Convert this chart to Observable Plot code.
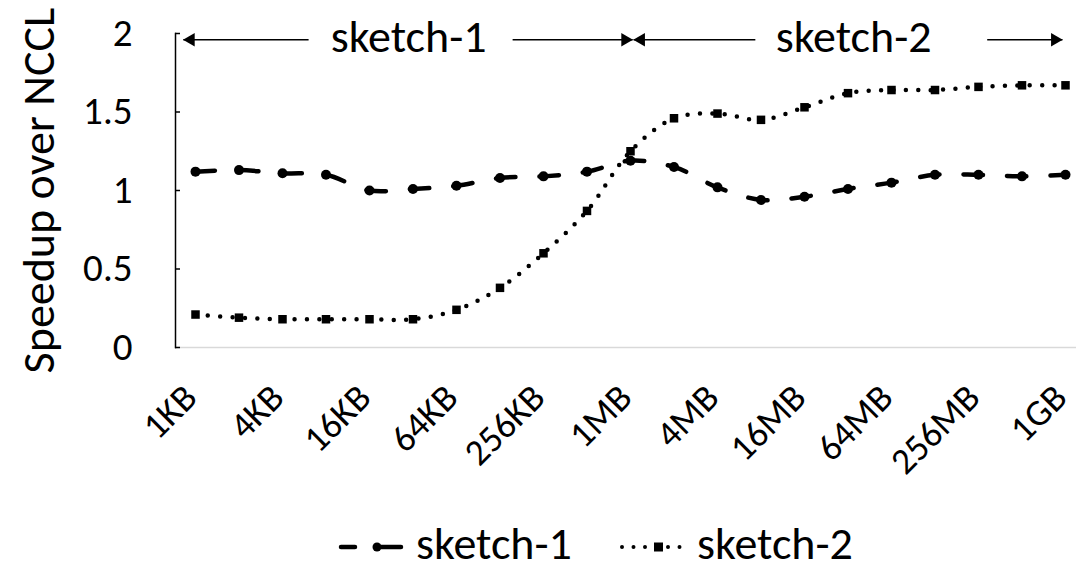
<!DOCTYPE html>
<html><head><meta charset="utf-8">
<script src="https://cdn.jsdelivr.net/npm/d3@7"></script>
<script src="https://cdn.jsdelivr.net/npm/@observablehq/plot@0.6"></script>
<style>
body{margin:0;background:#fff;font-family:Carlito,Lato,sans-serif}
#legend{display:block}
</style></head><body>
<div id="chart"></div>
<div id="legend"></div>
<script>
const sizes = ["1KB","2KB","4KB","8KB","16KB","32KB","64KB","128KB","256KB","512KB","1MB","2MB","4MB","8MB","16MB","32MB","64MB","128MB","256MB","512MB","1GB"];
const sketch1 = [1.12,1.13,1.11,1.10,1.00,1.01,1.03,1.08,1.09,1.12,1.19,1.15,1.02,0.94,0.96,1.01,1.05,1.10,1.10,1.09,1.10];
const sketch2 = [0.21,0.19,0.18,0.18,0.18,0.18,0.24,0.38,0.60,0.87,1.25,1.46,1.49,1.45,1.53,1.62,1.64,1.64,1.66,1.67,1.67];
const yTicks = [0, 0.5, 1, 1.5, 2];
const xTickIdx = d3.range(0, 21, 2);
const seriesNames = ["sketch-1", "sketch-2"];
const yLabel = "Speedup over NCCL";
// phase annotations (in data units: x index, y speedup)
const annY = 1.96;
const phaseLabels = [{label: "sketch-1", x: 4.9}, {label: "sketch-2", x: 15.13}];
const arrowSegs = [
  {from: 2.6, to: -0.28, dir: "left"},
  {from: 7.29, to: 10.05, dir: "right"},
  {from: 12.87, to: 10.07, dir: "left"},
  {from: 18.2, to: 19.93, dir: "right"}
];

const FONT = "Carlito, Lato, sans-serif";
const s1 = sizes.map((s, i) => ({i, size: s, v: sketch1[i]}));
const s2 = sizes.map((s, i) => ({i, size: s, v: sketch2[i]}));

const chart = Plot.plot({
  width: 1076, height: 500,
  marginLeft: 175, marginRight: 0, marginTop: 33, marginBottom: 153,
  style: {fontFamily: FONT, color: "#000", background: "#fff", overflow: "visible"},
  x: {type: "linear", domain: [0, 20], range: [195, 1065]},
  y: {domain: [0, 2]},
  marks: [
    Plot.ruleY([0], {stroke: "#d9d9d9", strokeWidth: 1.5}),
    Plot.frame({anchor: "left", stroke: "#000", strokeWidth: 1.5}),
    Plot.axisY({ticks: yTicks, tickSize: 5, dx: 5, tickPadding: 43, fontSize: 39, strokeWidth: 1.5,
      tickFormat: d => String(d), label: null}),
    Plot.text([yLabel], {frameAnchor: "left", dx: -136, rotate: -90, fontSize: 46, textAnchor: "middle", lineAnchor: "middle", text: d => d}),
    Plot.axisX({ticks: xTickIdx, tickFormat: i => sizes[i], tickSize: 0, tickPadding: 44, dx: -5,
      tickRotate: -45, fontSize: 37, label: null}),
    Plot.line(s1, {x: "i", y: "v", curve: "catmull-rom", stroke: "#000", strokeWidth: 4.5,
      strokeDasharray: "19.5,24", strokeLinecap: "round"}),
    Plot.dot(s1, {x: "i", y: "v", r: 5, fill: "#000", symbol: "circle"}),
    Plot.line(s2, {x: "i", y: "v", curve: "catmull-rom", stroke: "#000", strokeWidth: 4.5,
      strokeDasharray: "0,12.4", strokeLinecap: "round"}),
    Plot.dot(s2, {x: "i", y: "v", r: 4.8, fill: "#000", symbol: "square"}),
    // phase annotations
    Plot.link(arrowSegs, {x1: "from", x2: "to", y1: annY, y2: annY, stroke: "#000", strokeWidth: 1.5}),
    Plot.dot(arrowSegs.filter(d => d.dir === "right"), {x: "to", y: annY, symbol: "triangle", r: 5, fill: "#000", rotate: 90, dx: -7.5}),
    Plot.dot(arrowSegs.filter(d => d.dir === "left"), {x: "to", y: annY, symbol: "triangle", r: 5, fill: "#000", rotate: -90, dx: 7.5}),
    Plot.text(phaseLabels, {x: "x", y: annY, text: "label", fontSize: 46, lineAnchor: "middle", dy: -3})
  ]
});
document.getElementById("chart").appendChild(chart);

// legend
const lg = d3.select("#legend").append("svg").attr("width", 1076).attr("height", 72)
  .style("font-family", FONT).style("display", "block");
const ly = 47, tb = 59;
lg.append("line").attr("x1", 341).attr("x2", 401).attr("y1", ly).attr("y2", ly)
  .attr("stroke", "#000").attr("stroke-width", 4.5).attr("stroke-linecap", "round").attr("stroke-dasharray", "14,22,24");
lg.append("circle").attr("cx", 377).attr("cy", ly).attr("r", 4.5).attr("fill", "#000");
lg.append("text").attr("x", 416).attr("y", tb).attr("font-size", 46).text(seriesNames[0]);
lg.append("line").attr("x1", 622).attr("x2", 684).attr("y1", ly).attr("y2", ly)
  .attr("stroke", "#000").attr("stroke-width", 4).attr("stroke-linecap", "round").attr("stroke-dasharray", "0,11.5");
lg.append("rect").attr("x", 654).attr("y", ly - 4.5).attr("width", 9).attr("height", 9).attr("fill", "#000");
lg.append("text").attr("x", 697).attr("y", tb).attr("font-size", 46).text(seriesNames[1]);
</script>
</body></html>
